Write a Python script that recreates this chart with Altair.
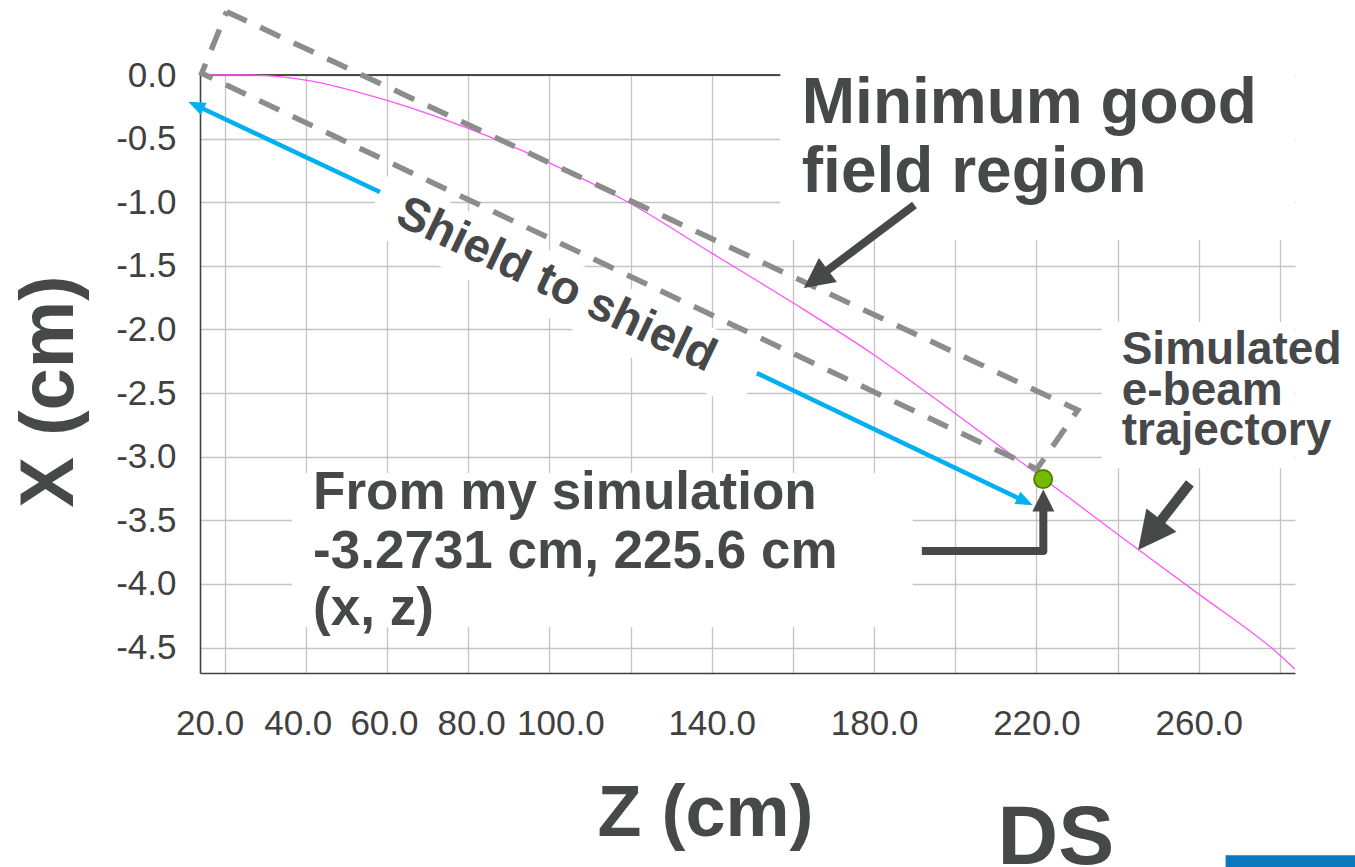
import altair as alt
import pandas as pd

FONT = "Liberation Sans"
DARK = "#47484a"

# ---------------- data ----------------
x_tick_values = [20, 40, 60, 80, 100, 120, 140, 160, 180, 200, 220, 240, 260, 280]
x_labels_shown = [20, 40, 60, 80, 100, 140, 180, 220, 260]
y_tick_values = [0.0, -0.5, -1.0, -1.5, -2.0, -2.5, -3.0, -3.5, -4.0, -4.5]

# simulated e-beam trajectory (z, x) in cm
traj_z = [13.9, 25, 40, 60, 80, 100, 120, 140, 160, 180, 200, 220, 240, 260, 280, 283.7]
traj_x = [0.0, 0.0, -0.04, -0.20, -0.42, -0.69, -1.01, -1.40, -1.79, -2.20, -2.66, -3.13, -3.61, -4.08, -4.56, -4.67]

# simulation point
sim_z = [221.65]
sim_x = [-3.176]

# minimum good field region (dashed box corners)
region_z = [20.52, 230.2, 220.1, 14.36, 20.52]
region_x = [0.498, -2.634, -3.097, 0.013, 0.498]

# shield-to-shield arrow (two visible shaft pieces + two heads)
shield_z1 = [13.27, 151.13]
shield_x1 = [-0.244, -2.343]
shield_z2 = [58.27, 216.9]
shield_x2 = [-0.920, -3.347]
shield_head_z = [11.06, 219.1]
shield_head_x = [-0.210, -3.381]
shield_head_ang = [295.2, 115.6]

# dark pointer arrows
ptr_id = ["min", "min", "sim", "sim", "pt", "pt", "pt"]
ptr_z = [189.95, 167.6, 257.8, 249.87, 191.77, 221.7, 221.7]
ptr_x = [-1.022, -1.557, -3.210, -3.535, -3.742, -3.742, -3.404]
ptr_w = [8, 8, 10, 10, 8, 8, 8]
ptr_order = [0, 1, 0, 1, 0, 1, 2]
ptr_head_z = [162.71, 245.05, 221.7]
ptr_head_x = [-1.675, -3.734, -3.257]
ptr_head_ang = [233.1, 217.8, 0.0]
ptr_head_size = [3600, 5776, 1936]

# white label backgrounds
bg_z1 = [156.9, 36.6, 236.1]
bg_z2 = [283.7, 189.5, 283.7]
bg_x1 = [-1.297, -4.340, -3.090]
bg_x2 = [0.05, -3.129, -1.942]

# annotation texts (left aligned)
note_text = ["Minimum good", "field region", "Simulated", "e-beam", "trajectory",
             "From my simulation", "-3.2731 cm, 225.6 cm", "(x, z)"]
note_z = [162.2, 162.2, 241.0, 241.0, 241.0, 41.8, 41.8, 41.8]
note_x = [-0.380, -0.917, -2.272, -2.594, -2.909, -3.414, -3.873, -4.324]
note_size = [64, 64, 46, 46, 46, 53, 53, 53]

# ---------------- tables ----------------
traj = pd.DataFrame({"z": traj_z, "x": traj_x})
sim = pd.DataFrame({"z": sim_z, "x": sim_x})
region = pd.DataFrame({"z": region_z, "x": region_x, "o": list(range(len(region_z)))})
shafts = pd.DataFrame({"z": shield_z1, "x": shield_x1, "z2": shield_z2, "x2": shield_x2})
sheads = pd.DataFrame({"z": shield_head_z, "x": shield_head_x, "ang": shield_head_ang})
ptr = pd.DataFrame({"id": ptr_id, "z": ptr_z, "x": ptr_x, "w": ptr_w, "o": ptr_order})
pheads = pd.DataFrame({"z": ptr_head_z, "x": ptr_head_x, "ang": ptr_head_ang, "sz": ptr_head_size})
bgs = pd.DataFrame({"z": bg_z1, "z2": bg_z2, "x": bg_x1, "x2": bg_x2})
notes = pd.DataFrame({"t": note_text, "z": note_z, "x": note_x, "s": note_size})
shield_lbl = pd.DataFrame({"t": ["Shield to shield"], "z": [101.7], "x": [-1.651]})
shield_bg = pd.DataFrame({"z": [103.69], "x": [-1.700]})
ds_lbl = pd.DataFrame({"t": ["DS"], "z": [224.78], "x": [-6.203]})
slide_bar = pd.DataFrame({"z": [266.6], "z2": [300.0], "x": [-6.132], "x2": [-6.40]})
zero_line = pd.DataFrame({"x": [0.0]})

xs = alt.Scale(domain=[13.94, 283.7], nice=False, zero=False)
ys = alt.Scale(domain=[-4.7, 0.0], nice=False, zero=False)

shown = ",".join(str(v) for v in x_labels_shown)
x_axis = alt.Axis(
    values=x_tick_values,
    labelExpr=f"indexof([{shown}], datum.value) >= 0 ? format(datum.value, '.1f') : ''",
    labelOverlap=False,
    labelFont=FONT, labelFontSize=35, labelColor="#404040", labelPadding=33,
    labelOffset={"condition": [
        {"test": "datum.value == 20", "value": -15},
        {"test": "datum.value == 40", "value": -8},
        {"test": "datum.value == 60", "value": -3},
        {"test": "datum.value == 80", "value": 3},
        {"test": "datum.value == 100", "value": 11}], "value": 0},
    ticks=False, grid=True, gridColor="#c4c4c4", gridWidth=1.3,
    domainColor="#404040", domainWidth=1.6,
    title="Z (cm)", titleFont=FONT, titleFontSize=72, titleFontWeight="bold",
    titleColor=DARK, titleX=505, titleY=162, titleAlign="center",
    titleBaseline="alphabetic", titleAngle=0,
)
y_axis = alt.Axis(
    values=y_tick_values,
    labelExpr="(datum.value < 0 ? '-' : '') + format(abs(datum.value), '.1f')",
    labelFont=FONT, labelFontSize=35, labelColor="#404040", labelPadding=24,
    ticks=False, grid=True, gridColor="#c4c4c4", gridWidth=1.3,
    domainColor="#404040", domainWidth=1.6,
    title="X  (cm)", titleFont=FONT, titleFontSize=76, titleFontWeight="bold",
    titleColor=DARK, titleX=-128, titleY=316, titleAlign="center",
    titleBaseline="alphabetic", titleAngle=270,
)


def X(f="z"):
    return alt.X(f"{f}:Q", scale=xs, axis=x_axis)


def Y(f="x"):
    return alt.Y(f"{f}:Q", scale=ys, axis=y_axis)


zero = alt.Chart(zero_line).mark_rule(color="#1a1a1a", strokeWidth=1.6).encode(y=Y())

traj_layer = alt.Chart(traj).mark_line(
    color="#ff55ff", strokeWidth=1.3, interpolate="monotone").encode(x=X(), y=Y())

bg_layer = alt.Chart(bgs).mark_rect(color="white", opacity=1).encode(
    x=X(), x2="z2:Q", y=Y(), y2="x2:Q")

rot_bg = alt.Chart(shield_bg).mark_point(
    shape="M-6.742,-1L6.742,-1L6.742,1L-6.742,1Z", filled=True, fill="white",
    opacity=1, size=3844, angle=25.5, strokeWidth=0).encode(x=X(), y=Y())

region_layer = alt.Chart(region).mark_line(
    color="#8c8c8c", strokeWidth=5.5, strokeDash=[22, 15], strokeCap="butt").encode(
    x=X(), y=Y(), order="o:Q")

shaft_layer = alt.Chart(shafts).mark_rule(color="#00b0f0", strokeWidth=4.5).encode(
    x=X(), x2="z2:Q", y=Y(), y2="x2:Q")

shead_layer = alt.Chart(sheads).mark_point(
    shape="M0,0L-0.4,1L0.4,1Z", filled=True, color="#00b0f0", opacity=1, size=1156,
    strokeWidth=0).encode(x=X(), y=Y(), angle=alt.Angle("ang:Q", scale=None))

ptr_layer = alt.Chart(ptr).mark_line(color=DARK, strokeCap="butt", strokeJoin="round").encode(
    x=X(), y=Y(), detail="id:N", order="o:Q",
    strokeWidth=alt.StrokeWidth("w:Q", scale=None, legend=None))

phead_layer = alt.Chart(pheads).mark_point(
    shape="M0,0L-0.5,1L0.5,1Z", filled=True, color=DARK, opacity=1, strokeWidth=0).encode(
    x=X(), y=Y(), angle=alt.Angle("ang:Q", scale=None),
    size=alt.Size("sz:Q", scale=None, legend=None))

sim_layer = alt.Chart(sim).mark_point(
    filled=True, fill="#76b900", stroke="#4f7f00", strokeWidth=1.8, opacity=1, size=330).encode(
    x=X(), y=Y())

note_layer = alt.Chart(notes).mark_text(
    align="left", baseline="alphabetic", font=FONT, fontWeight="bold", color=DARK).encode(
    x=X(), y=Y(), text="t:N", size=alt.Size("s:Q", scale=None, legend=None))

shield_text = alt.Chart(shield_lbl).mark_text(
    align="center", baseline="middle", font=FONT, fontWeight="bold", color=DARK,
    fontSize=47, angle=25.5).encode(x=X(), y=Y(), text="t:N")

ds_text = alt.Chart(ds_lbl).mark_text(
    align="center", baseline="alphabetic", font=FONT, fontWeight="bold", color=DARK,
    fontSize=84).encode(x=X(), y=Y(), text="t:N")

bar_layer = alt.Chart(slide_bar).mark_rect(color="#0b78bf", opacity=1).encode(
    x=X(), x2="z2:Q", y=Y(), y2="x2:Q")

chart = alt.layer(
    zero, traj_layer, bg_layer, rot_bg, region_layer, shaft_layer, shead_layer,
    ptr_layer, phead_layer, sim_layer, note_layer, shield_text, ds_text, bar_layer,
).properties(
    width=1095, height=598,
    autosize=alt.AutoSizeParams(type="none"),
    padding={"left": 200, "top": 75, "right": 60, "bottom": 194},
    background="white",
).configure_view(stroke=None)

chart.save("out.html", embed_options={"renderer": "svg", "actions": False})
